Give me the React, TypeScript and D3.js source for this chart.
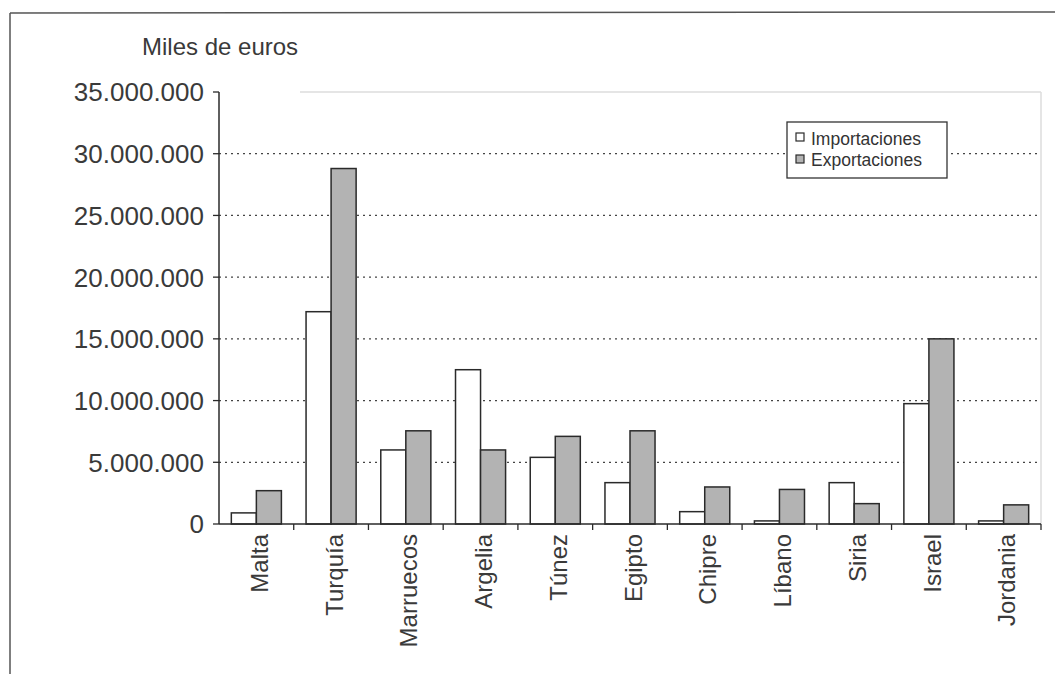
import React from "react";
import * as d3 from "d3";

const categories = ["Malta", "Turquía", "Marruecos", "Argelia", "Túnez", "Egipto", "Chipre", "Líbano", "Siria", "Israel", "Jordania"];
const importaciones = [900000, 17200000, 6000000, 12500000, 5400000, 3350000, 1000000, 250000, 3350000, 9750000, 250000];
const exportaciones = [2700000, 28800000, 7550000, 6000000, 7100000, 7550000, 3000000, 2800000, 1650000, 15000000, 1550000];
const yTicks = [0, 5000000, 10000000, 15000000, 20000000, 25000000, 30000000, 35000000];
const seriesNames = ["Importaciones", "Exportaciones"];

const W = 1055, H = 674;
const left = 219, right = 1041, top = 92, bottom = 524;
const font = "'Liberation Sans', Arial, sans-serif";
const ink = "#2a2a2a";

const locale = d3.formatLocale({ thousands: ".", grouping: [3], decimal: ",", currency: ["", "€"] });
const fmt = locale.format(",");

export default function App() {
  const y = d3.scaleLinear().domain([0, 35000000]).range([bottom, top]);
  const x = d3.scaleBand<string>().domain(categories).range([left, right]).padding(0);
  const bw = x.bandwidth() * 0.335;
  const colors = ["#ffffff", "#b3b3b3"];

  return (
    <svg width={W} height={H} style={{ position: "absolute", left: 0, top: 0, background: "#fff" }}>
      {/* outer frame */}
      <line x1={10} y1={13} x2={W} y2={12} stroke="#555" strokeWidth={1.5} />
      <line x1={10} y1={13} x2={10} y2={H} stroke="#555" strokeWidth={1.5} />

      {/* faint plot area edges */}
      <line x1={300} y1={top} x2={right} y2={top} stroke="#ddd" strokeWidth={1.5} />
      <line x1={right} y1={top} x2={right} y2={bottom} stroke="#ddd" strokeWidth={1.5} />

      {/* title */}
      <text x={142} y={55} fontFamily={font} fontSize={24} fill="#3a3a3a">Miles de euros</text>

      {/* grid lines */}
      {yTicks.filter(t => t > 0 && t < 35000000).map(t => (
        <line key={"g" + t} x1={left} x2={right} y1={y(t)} y2={y(t)} stroke="#444" strokeWidth={1.3} strokeDasharray="2,4" />
      ))}

      {/* y ticks & labels */}
      {yTicks.map(t => (
        <g key={"t" + t}>
          <line x1={left - 6} x2={left} y1={y(t)} y2={y(t)} stroke={ink} strokeWidth={1.3} />
          <text x={204} y={y(t)} dy="0.36em" textAnchor="end" fontFamily={font} fontSize={26} fill="#3a3a3a">{fmt(t)}</text>
        </g>
      ))}

      {/* bars */}
      {categories.map((c, i) => {
        const cx = (x(c) as number) + x.bandwidth() / 2;
        return (
          <g key={c}>
            <rect x={cx - bw} y={y(importaciones[i])} width={bw} height={bottom - y(importaciones[i])} fill={colors[0]} stroke={ink} strokeWidth={1.5} />
            <rect x={cx} y={y(exportaciones[i])} width={bw} height={bottom - y(exportaciones[i])} fill={colors[1]} stroke={ink} strokeWidth={1.5} />
          </g>
        );
      })}

      {/* axes */}
      <line x1={left} x2={left} y1={top} y2={bottom} stroke={ink} strokeWidth={1.5} />
      <line x1={left} x2={right} y1={bottom} y2={bottom} stroke={ink} strokeWidth={1.5} />
      {categories.map(c => (
        <line key={"xt" + c} x1={(x(c) as number) + x.bandwidth()} x2={(x(c) as number) + x.bandwidth()} y1={bottom} y2={bottom + 6} stroke={ink} strokeWidth={1.3} />
      ))}

      {/* x labels */}
      {categories.map(c => {
        const cx = (x(c) as number) + x.bandwidth() / 2 + 3;
        return (
          <text key={"xl" + c} transform={`translate(${cx},${bottom + 10}) rotate(-90)`} textAnchor="end" dy="0.36em" fontFamily={font} fontSize={24} fill="#3a3a3a">{c}</text>
        );
      })}

      {/* legend */}
      <rect x={787} y={122} width={160} height={56} fill="#fff" stroke="#333" strokeWidth={1.3} />
      {seriesNames.map((s, i) => (
        <g key={s}>
          <rect x={796} y={133 + i * 22} width={8} height={8} fill={colors[i]} stroke={ink} strokeWidth={1.2} />
          <text x={811} y={145 + i * 21} fontFamily={font} fontSize={17.5} fill="#333">{s}</text>
        </g>
      ))}
    </svg>
  );
}
